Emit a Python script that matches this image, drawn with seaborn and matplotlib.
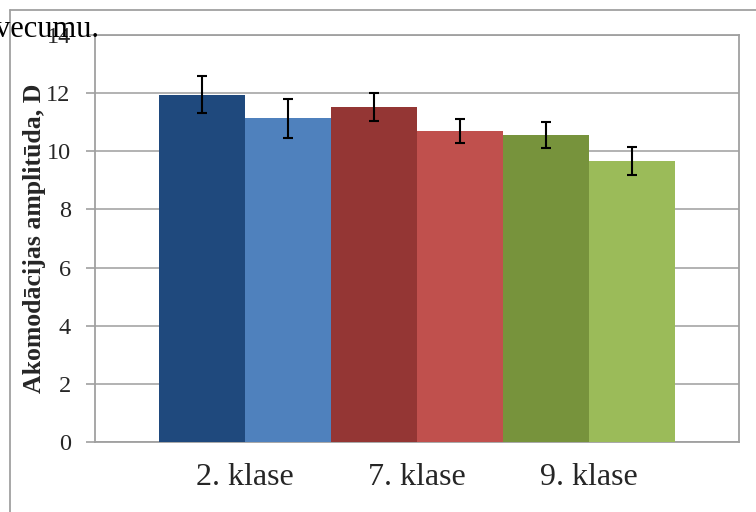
import numpy as np
import pandas as pd
import matplotlib
matplotlib.use("Agg")
import matplotlib.pyplot as plt
import seaborn as sns
from matplotlib.lines import Line2D

# ---- data ----
categories = ["2. klase", "7. klase", "9. klase"]
bar_ids = ["2a", "2b", "7a", "7b", "9a", "9b"]
values = [11.95, 11.13, 11.52, 10.70, 10.55, 9.67]
errors = [0.63, 0.66, 0.48, 0.40, 0.45, 0.48]
colors = ["#1F497D", "#4F81BD", "#943634", "#C0504D", "#77933C", "#9BBB59"]
yticks = [0, 2, 4, 6, 8, 10, 12, 14]
ylabel = "Akomodācijas amplitūda, D"
top_text = "vecumu."

sns.set_theme(style="white")
plt.rcParams["font.family"] = ["Liberation Serif", "DejaVu Serif"]

W, H = 756, 512
fig = plt.figure(figsize=(W / 100, H / 100), dpi=100)
fig.patch.set_facecolor("white")

L, R, T, B = 95, 739, 35, 442
ax = fig.add_axes([L / W, 1 - B / H, (R - L) / W, (B - T) / H])

df = pd.DataFrame({"bar": bar_ids, "value": values})
sns.barplot(data=df, x="bar", y="value", hue="bar", palette=colors,
            saturation=1, legend=False, width=1.0, linewidth=0,
            edgecolor="none", ax=ax, zorder=3)

xpos = np.arange(len(bar_ids))
ax.errorbar(xpos, values, yerr=errors, fmt="none", ecolor="black",
            elinewidth=1.5, capsize=3.8, capthick=1.5, zorder=4)

ax.set_xlim(-1.244, len(bar_ids) - 1 + 1.244)
ax.set_ylim(0, 14)
ax.set_yticks(yticks)
ax.set_yticklabels([str(t) for t in yticks], fontsize=17.5)
ax.set_xticks([0.5, 2.5, 4.5])
ax.set_xticklabels(categories, fontsize=23)
ax.tick_params(axis="x", length=0, pad=15)
ax.tick_params(axis="y", length=6.5, width=1.2, color="#a0a0a0", pad=11,
               direction="out", left=True)
ax.set_xlabel("")
ax.set_ylabel(ylabel, fontsize=18.5, fontweight="bold", labelpad=0)
ax.yaxis.set_label_coords(-91 / (R - L) + 30 / (R - L), 0.5)
ax.yaxis.label.set_va("center")
ax.yaxis.grid(True, color="#a6a6a6", linewidth=1.2, zorder=0)
ax.set_axisbelow(True)
for s in ax.spines.values():
    s.set_color("#a0a0a0")
    s.set_linewidth(1.3)
    s.set_visible(True)

# outer document frame
fig.add_artist(Line2D([10 / W, 1.0], [1 - 10 / H, 1 - 10 / H],
                      color="#a0a0a0", lw=1.3, transform=fig.transFigure))
fig.add_artist(Line2D([10 / W, 10 / W], [0, 1 - 10 / H],
                      color="#a0a0a0", lw=1.3, transform=fig.transFigure))

fig.text(-5 / W, 1 - 37 / H, top_text, fontsize=22, ha="left",
         va="baseline", color="black")

fig.savefig("out.png", dpi=100)
